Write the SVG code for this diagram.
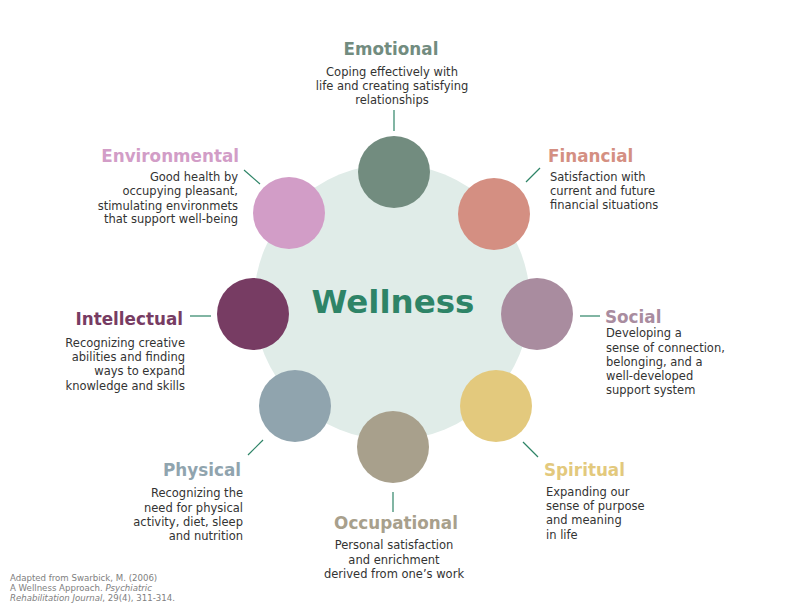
<svg xmlns="http://www.w3.org/2000/svg" width="792" height="612" viewBox="0 0 792 612">
<style>
.t{font-family:"DejaVu Sans","Liberation Sans",sans-serif;font-weight:bold;font-size:16.8px}
.b{font-family:"DejaVu Sans","Liberation Sans",sans-serif;font-size:11.5px;fill:#333333}
.c{stroke:#2e8467;stroke-width:1.2;fill:none}
.cite{font-family:"DejaVu Sans","Liberation Sans",sans-serif;font-size:8.6px;fill:#808080}
.r{text-anchor:end}.m{text-anchor:middle}
</style>
<rect width="792" height="612" fill="#ffffff"/>
<g id="center">
<circle cx="392" cy="302" r="138" fill="#e0ece8"/>
<text x="393" y="313" text-anchor="middle" style="font-family:'DejaVu Sans','Liberation Sans',sans-serif;font-weight:bold;font-size:32.5px;fill:#2e8467">Wellness</text>
</g>
<g id="connectors">
<line class="c" x1="394" y1="110" x2="394" y2="131"/>
<line class="c" x1="526" y1="182" x2="540" y2="168"/>
<line class="c" x1="580" y1="316" x2="600" y2="316"/>
<line class="c" x1="523" y1="442" x2="538" y2="457"/>
<line class="c" x1="393" y1="492" x2="393" y2="512"/>
<line class="c" x1="248" y1="455" x2="263" y2="440"/>
<line class="c" x1="190" y1="316" x2="211" y2="316"/>
<line class="c" x1="244" y1="170" x2="260" y2="184"/>
</g>
<g id="emotional">
<circle cx="394" cy="172" r="36" fill="#728c7f"/>
<text class="t m" x="391" y="55" fill="#728c7f">Emotional</text>
<text class="b m" x="392"><tspan x="392" y="76">Coping effectively with</tspan><tspan x="392" y="90">life and creating satisfying</tspan><tspan x="392" y="104">relationships</tspan></text>
</g>
<g id="financial">
<circle cx="494" cy="214" r="36" fill="#d48f82"/>
<text class="t" x="548" y="162" fill="#d48f82">Financial</text>
<text class="b"><tspan x="550" y="181">Satisfaction with</tspan><tspan x="550" y="195">current and future</tspan><tspan x="550" y="209">financial situations</tspan></text>
</g>
<g id="social">
<circle cx="537" cy="314" r="36" fill="#a98c9f"/>
<text class="t" x="605" y="323" fill="#a98c9f">Social</text>
<text class="b"><tspan x="606" y="337">Developing a</tspan><tspan x="606" y="352">sense of connection,</tspan><tspan x="606" y="366">belonging, and a</tspan><tspan x="606" y="380">well-developed</tspan><tspan x="606" y="394">support system</tspan></text>
</g>
<g id="spiritual">
<circle cx="496" cy="406" r="36" fill="#e3c97d"/>
<text class="t" x="544" y="476" fill="#e3c97d">Spiritual</text>
<text class="b"><tspan x="546" y="496">Expanding our</tspan><tspan x="546" y="510">sense of purpose</tspan><tspan x="546" y="524">and meaning</tspan><tspan x="546" y="539">in life</tspan></text>
</g>
<g id="occupational">
<circle cx="393" cy="447" r="36" fill="#a8a08c"/>
<text class="t m" x="396" y="529" fill="#a8a08c">Occupational</text>
<text class="b m"><tspan x="394" y="549">Personal satisfaction</tspan><tspan x="394" y="564">and enrichment</tspan><tspan x="394" y="578">derived from one’s work</tspan></text>
</g>
<g id="physical">
<circle cx="295" cy="406" r="36" fill="#90a4ae"/>
<text class="t r" x="241" y="476" fill="#90a4ae">Physical</text>
<text class="b r"><tspan x="243" y="497">Recognizing the</tspan><tspan x="243" y="512">need for physical</tspan><tspan x="243" y="526">activity, diet, sleep</tspan><tspan x="243" y="540">and nutrition</tspan></text>
</g>
<g id="intellectual">
<circle cx="253" cy="314" r="36" fill="#773c63"/>
<text class="t r" x="183" y="325" fill="#773c63">Intellectual</text>
<text class="b r"><tspan x="185" y="347">Recognizing creative</tspan><tspan x="185" y="361">abilities and finding</tspan><tspan x="185" y="375">ways to expand</tspan><tspan x="185" y="390">knowledge and skills</tspan></text>
</g>
<g id="environmental">
<circle cx="289" cy="213" r="36" fill="#d29dc7"/>
<text class="t r" x="239" y="162" fill="#d29dc7">Environmental</text>
<text class="b r"><tspan x="238" y="181">Good health by</tspan><tspan x="238" y="195">occupying pleasant,</tspan><tspan x="238" y="210">stimulating environmets</tspan><tspan x="238" y="223">that support well-being</tspan></text>
</g>
<g id="citation">
<text class="cite"><tspan x="10" y="581">Adapted from Swarbick, M. (2006)</tspan><tspan x="10" y="591">A Wellness Approach. <tspan font-style="italic">Psychiatric</tspan></tspan><tspan x="10" y="601"><tspan font-style="italic">Rehabilitation Journal</tspan>, 29(4), 311-314.</tspan></text>
</g>
</svg>
